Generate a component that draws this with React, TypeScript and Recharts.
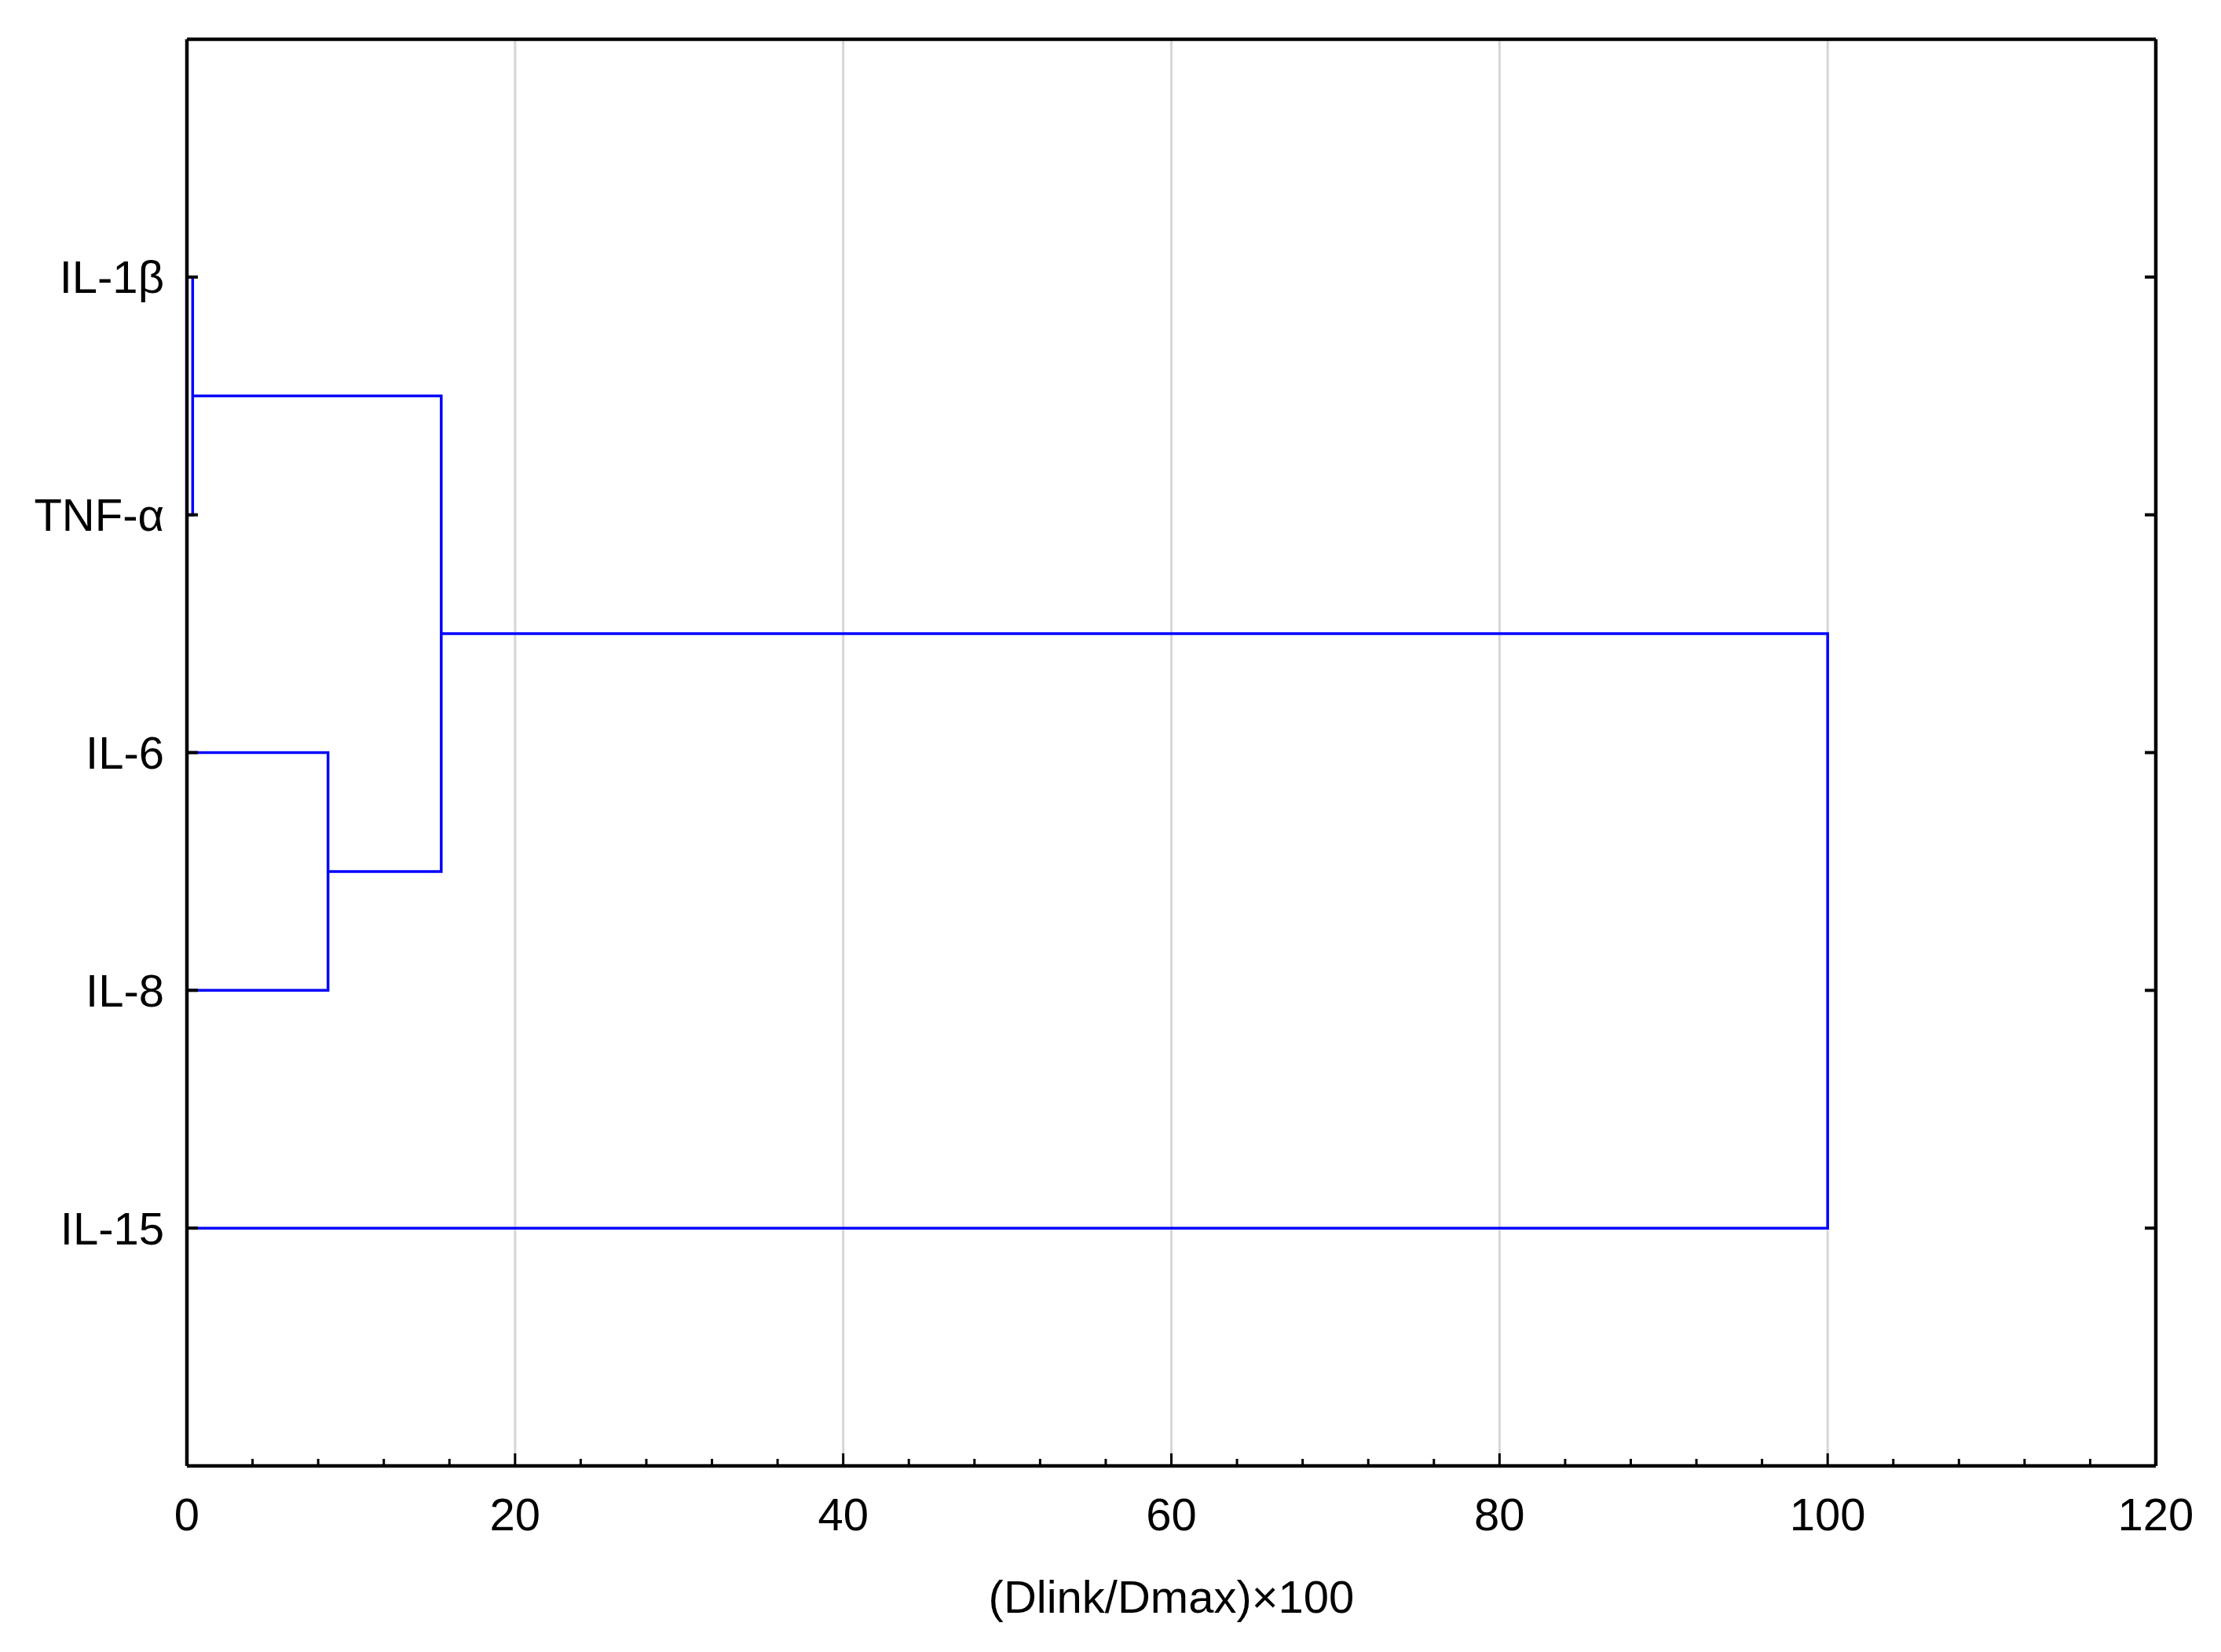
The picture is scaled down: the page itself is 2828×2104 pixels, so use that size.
import React from 'react';
import { LineChart, Line, XAxis, YAxis, ReferenceLine } from 'recharts';

// leaf order, top to bottom
const leaves = ['IL-1β', 'TNF-α', 'IL-6', 'IL-8', 'IL-15'];
const leafPos = [1, 2, 3, 4, 5];

// linkage distances, (Dlink/Dmax)*100
const mergeIl1TnfX = [0, 0.35, 0.35, 0];
const mergeIl1TnfY = [1, 1, 2, 2];
const mergeIl6Il8X = [0, 8.6, 8.6, 0];
const mergeIl6Il8Y = [3, 3, 4, 4];
const mergeUpperX = [0.35, 15.5, 15.5, 8.6];
const mergeUpperY = [1.5, 1.5, 3.5, 3.5];
const mergeRootX = [15.5, 100, 100, 0];
const mergeRootY = [2.5, 2.5, 5, 5];

const xTicks = [0, 4, 8, 12, 16, 20, 24, 28, 32, 36, 40, 44, 48, 52, 56, 60, 64, 68, 72, 76, 80, 84, 88, 92, 96, 100, 104, 108, 112, 116, 120];
const gridValues = [20, 40, 60, 80, 100];

const links = [
  { id: 'il1-tnf', xs: mergeIl1TnfX, ys: mergeIl1TnfY },
  { id: 'il6-il8', xs: mergeIl6Il8X, ys: mergeIl6Il8Y },
  { id: 'upper', xs: mergeUpperX, ys: mergeUpperY },
  { id: 'root', xs: mergeRootX, ys: mergeRootY },
];

const font = '"Liberation Sans", Arial, sans-serif';
const fontSize = 58;

const BottomTick = (props: any) => {
  const { x, y, payload } = props;
  const major = payload.value % 20 === 0;
  return (
    <g>
      {payload.value > 0 && payload.value < 120 && (
        <line x1={x} x2={x} y1={y} y2={y - (major ? 16 : 9)} stroke="#000" strokeWidth={3} />
      )}
      {major && (
        <text x={x} y={y + 61} dy="0.355em" textAnchor="middle" fontSize={fontSize} fontFamily={font} fill="#000">
          {payload.value}
        </text>
      )}
    </g>
  );
};

const TopTick = (props: any) => {
  const { x, y, payload } = props;
  const major = payload.value % 20 === 0;
  if (payload.value <= 0 || payload.value >= 120) return <g />;
  return <line x1={x} x2={x} y1={y} y2={y + (major ? 16 : 9)} stroke="#000" strokeWidth={3} />;
};

const LeftTick = (props: any) => {
  const { x, y, payload } = props;
  return (
    <g>
      <line x1={x} x2={x + 14} y1={y} y2={y} stroke="#000" strokeWidth={4} />
      <text x={x - 29} y={y} dy="0.355em" textAnchor="end" fontSize={fontSize} fontFamily={font} fill="#000">
        {leaves[payload.value - 1]}
      </text>
    </g>
  );
};

const RightTick = (props: any) => {
  const { x, y } = props;
  return <line x1={x} x2={x - 14} y1={y} y2={y} stroke="#000" strokeWidth={4} />;
};

const AxisTitle = (props: any) => {
  const { viewBox } = props;
  return (
    <text
      x={viewBox.x + viewBox.width / 2}
      y={viewBox.y + 166}
      dy="0.355em"
      textAnchor="middle"
      fontSize={fontSize}
      fontFamily={font}
      fill="#000"
    >
      (Dlink/Dmax)×100
    </text>
  );
};

export default function App() {
  return (
    <div style={{ position: 'absolute', left: 0, top: 0, width: 2828, height: 2104, background: '#fff' }}>
      <LineChart width={2828} height={2104} margin={{ top: 49, right: 82, bottom: 0, left: 0 }}>
        {gridValues.map((v) => (
          <ReferenceLine key={v} x={v} stroke="#d6d6d6" strokeWidth={3} />
        ))}
        <XAxis
          type="number"
          dataKey="x"
          domain={[0, 120]}
          ticks={xTicks}
          interval={0}
          height={237}
          tickSize={0}
          tickMargin={0}
          tickLine={false}
          tick={<BottomTick />}
          axisLine={{ stroke: '#000', strokeWidth: 4.5 }}
          label={<AxisTitle />}
          allowDataOverflow
        />
        <XAxis
          xAxisId="top"
          orientation="top"
          type="number"
          domain={[0, 120]}
          ticks={xTicks}
          interval={0}
          height={1}
          tickSize={0}
          tickMargin={0}
          tickLine={false}
          tick={<TopTick />}
          axisLine={{ stroke: '#000', strokeWidth: 4.5 }}
          allowDataOverflow
        />
        <YAxis
          type="number"
          dataKey="y"
          domain={[0, 6]}
          reversed
          ticks={leafPos}
          interval={0}
          width={238}
          tickSize={0}
          tickMargin={0}
          tickLine={false}
          tick={<LeftTick />}
          axisLine={{ stroke: '#000', strokeWidth: 4.5 }}
          allowDataOverflow
        />
        <YAxis
          yAxisId="right"
          orientation="right"
          type="number"
          domain={[0, 6]}
          reversed
          ticks={leafPos}
          interval={0}
          width={1}
          tickSize={0}
          tickMargin={0}
          tickLine={false}
          tick={<RightTick />}
          axisLine={{ stroke: '#000', strokeWidth: 4.5 }}
          allowDataOverflow
        />
        {links.map((l) => (
          <Line
            key={l.id}
            type="linear"
            data={l.xs.map((x, i) => ({ x, y: l.ys[i] }))}
            dataKey="y"
            stroke="#0000ff"
            strokeWidth={3.5}
            dot={false}
            activeDot={false}
            isAnimationActive={false}
          />
        ))}
      </LineChart>
    </div>
  );
}
